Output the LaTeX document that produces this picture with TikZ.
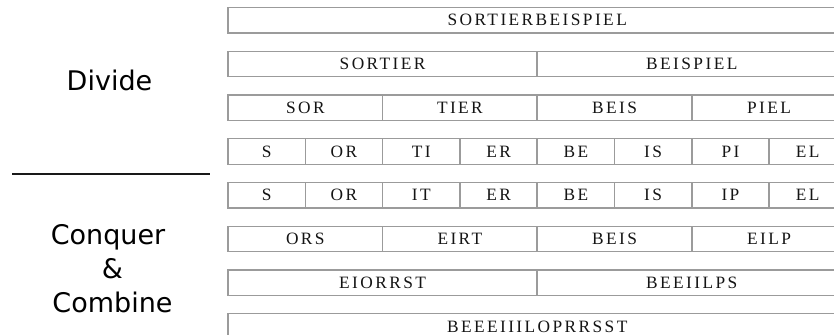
\documentclass[tikz,border=0pt]{standalone}
\usepackage{fontspec}
\newfontfamily\cellfont[LetterSpace=14]{Liberation Serif}
\newfontfamily\labelfont{DejaVu Sans}
\definecolor{boxgray}{RGB}{155,155,155}
\definecolor{textblack}{RGB}{20,20,20}
\begin{document}
\begin{tikzpicture}[x=0.75pt,y=-0.75pt,
  cell/.style={draw=boxgray, line width=1.1pt, rectangle, inner sep=0pt, outer sep=0pt,
    minimum height=19.125pt, anchor=north west, text=textblack,
    font=\cellfont\fontsize{13}{15}\selectfont},
  w1/.style={minimum width=57.975pt},
  w2/.style={minimum width=115.95pt},
  w4/.style={minimum width=231.9pt},
  w8/.style={minimum width=463.8pt},
  side/.style={font=\labelfont\fontsize{20.25}{25.5}\selectfont, text=black, anchor=base, inner sep=0pt},
  divider/.style={line width=1.5pt, draw=black!90}]

\useasboundingbox (0,0) rectangle (834,335);
\clip (0,0) rectangle (834,335);

% side labels
\node[side] (divide) at (109.5,90) {Divide};
\coordinate (dl) at (12,174);
\coordinate (dr) at (210,174);
\draw[divider] (dl) -- (dr);
\node[side] (conquer) at (108,244) {Conquer};
\node[side] (amp) at (112.5,278) {\&};
\node[side] (combine) at (112.5,312) {Combine};

% row 1
\node[cell,w8] (r1) at (228,7.5) {SORTIERBEISPIEL};
% row 2
\node[cell,w4] (r2a) at (228,51.25) {SORTIER};
\node[cell,w4] (r2b) at (537.2,51.25) {BEISPIEL};
% row 3
\node[cell,w2] (r3a) at (228,95) {SOR};
\node[cell,w2] (r3b) at (382.6,95) {TIER};
\node[cell,w2] (r3c) at (537.2,95) {BEIS};
\node[cell,w2] (r3d) at (691.8,95) {PIEL};
% row 4
\node[cell,w1] (r4a) at (228,138.75) {S};
\node[cell,w1] (r4b) at (305.3,138.75) {OR};
\node[cell,w1] (r4c) at (382.6,138.75) {TI};
\node[cell,w1] (r4d) at (459.9,138.75) {ER};
\node[cell,w1] (r4e) at (537.2,138.75) {BE};
\node[cell,w1] (r4f) at (614.5,138.75) {IS};
\node[cell,w1] (r4g) at (691.8,138.75) {PI};
\node[cell,w1] (r4h) at (769.1,138.75) {EL};
% row 5
\node[cell,w1] (r5a) at (228,182.5) {S};
\node[cell,w1] (r5b) at (305.3,182.5) {OR};
\node[cell,w1] (r5c) at (382.6,182.5) {IT};
\node[cell,w1] (r5d) at (459.9,182.5) {ER};
\node[cell,w1] (r5e) at (537.2,182.5) {BE};
\node[cell,w1] (r5f) at (614.5,182.5) {IS};
\node[cell,w1] (r5g) at (691.8,182.5) {IP};
\node[cell,w1] (r5h) at (769.1,182.5) {EL};
% row 6
\node[cell,w2] (r6a) at (228,226.25) {ORS};
\node[cell,w2] (r6b) at (382.6,226.25) {EIRT};
\node[cell,w2] (r6c) at (537.2,226.25) {BEIS};
\node[cell,w2] (r6d) at (691.8,226.25) {EILP};
% row 7
\node[cell,w4] (r7a) at (228,270) {EIORRST};
\node[cell,w4] (r7b) at (537.2,270) {BEEIILPS};
% row 8
\node[cell,w8] (r8) at (228,313.75) {BEEEIIILOPRRSST};
\end{tikzpicture}
\end{document}
